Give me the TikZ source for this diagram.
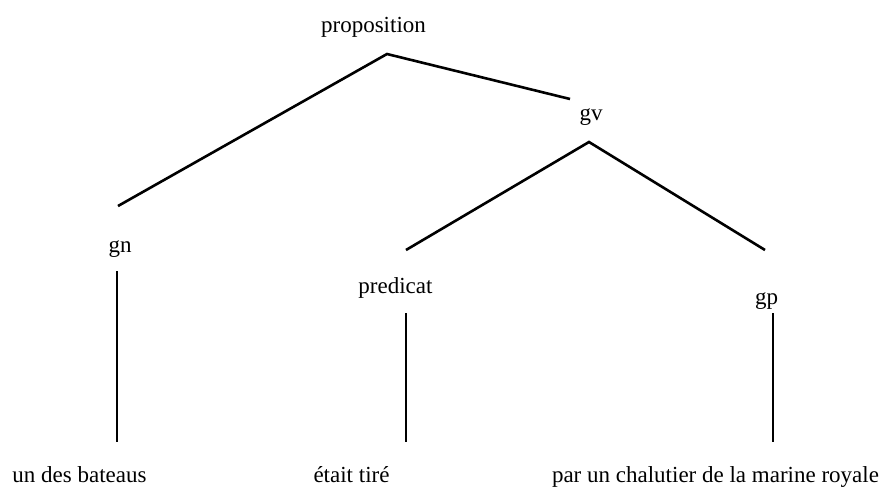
\documentclass[tikz,border=0pt]{standalone}
\usepackage{fontspec}
\setmainfont{Liberation Serif}

\begin{document}
\begin{tikzpicture}[x=0.5pt,y=-0.5pt]
          \tikzset{cat/.style = {anchor=base, inner sep=0pt, font=\fontsize{11.5}{13}\selectfont}}
          \tikzset{branch/.style = {line width=1.3pt}}
          \useasboundingbox (0,0) rectangle (879,488);

          \node[cat] (prop) at (373.5,32.5) {proposition};
          \node[cat] (gv) at (591,120) {gv};
          \node[cat] (gn) at (120,252) {gn};
          \node[cat] (pred) at (395.5,293) {predicat};
          \node[cat] (gp) at (766.5,304) {gp};
          \node[cat] (bateaus) at (79.5,482) {un des bateaus};
          \node[cat] (tire) at (351.5,482) {était tiré};
          \node[cat] (chalutier) at (715.5,482) {par un chalutier de la marine royale};

          \coordinate (prop-j) at (387,54);
          \coordinate (gn-in) at (118,206);
          \coordinate (gv-in) at (570,99);
          \coordinate (gv-j) at (589,142);
          \coordinate (pred-in) at (406,250);
          \coordinate (gp-in) at (765,250);
          \coordinate (gn-out) at (117,271);
          \coordinate (bateaus-in) at (117,442);
          \coordinate (pred-out) at (406,313);
          \coordinate (tire-in) at (406,442);
          \coordinate (gp-out) at (773,313);
          \coordinate (chalutier-in) at (773,442);

          \draw[branch] (gn-in) -- (prop-j) -- (gv-in);
          \draw[branch] (pred-in) -- (gv-j) -- (gp-in);
          \draw[branch] (gn-out) -- (bateaus-in);
          \draw[branch] (pred-out) -- (tire-in);
          \draw[branch] (gp-out) -- (chalutier-in);
        \end{tikzpicture}
\end{document}
